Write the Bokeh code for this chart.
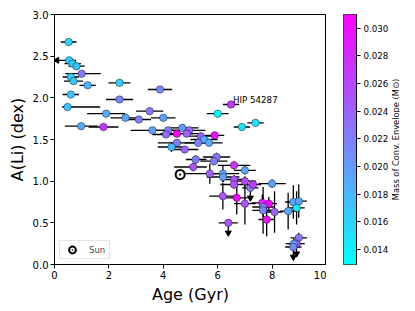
import numpy as np
from bokeh.plotting import figure
from bokeh.models import (ColumnDataSource, LinearColorMapper, FixedTicker,
                          PrintfTickFormatter, Legend, LegendItem, Range1d, Label)
from bokeh.layouts import row
from bokeh.transform import transform
from bokeh.embed import file_html
from bokeh.resources import INLINE

# ---------------- data ----------------
age = [0.52, 0.54, 0.67, 0.81, 1.00, 0.60, 0.70, 1.22, 0.60, 2.39,
       3.88, 2.39, 0.48, 1.90, 3.50, 2.61, 3.10, 4.00, 0.98, 1.80,
       6.49, 6.00, 7.39, 6.89, 3.60, 4.18, 4.10, 4.50, 4.70, 4.95,
       4.86, 5.38, 5.50, 5.89, 5.28, 5.68, 4.50, 4.30, 4.79, 5.19,
       5.96, 5.86, 5.10, 6.60, 7.00, 5.71, 6.19, 6.20, 6.60, 6.60,
       7.00, 7.20, 7.30, 8.00, 6.19, 6.70, 7.00, 7.64, 7.88, 7.67,
       7.67, 8.09, 7.80, 8.59, 8.78, 8.98, 8.90, 6.39, 8.98, 8.90,
       8.80, 8.78]
ali = [2.67, 2.45, 2.41, 2.38, 2.29, 2.25, 2.20, 2.15, 2.04, 2.18,
       2.10, 1.98, 1.89, 1.81, 1.84, 1.76, 1.74, 1.76, 1.66, 1.65,
       1.92, 1.81, 1.70, 1.65, 1.61, 1.61, 1.56, 1.57, 1.64, 1.61,
       1.57, 1.54, 1.50, 1.55, 1.46, 1.46, 1.46, 1.41, 1.38, 1.26,
       1.29, 1.24, 1.17, 1.19, 1.13, 1.09, 1.09, 1.05, 1.02, 0.96,
       1.00, 0.92, 0.96, 0.97, 0.82, 0.80, 0.73, 0.74, 0.73, 0.69,
       0.65, 0.63, 0.54, 0.64, 0.75, 0.76, 0.68, 0.50, 0.32, 0.25,
       0.25, 0.21]
age_err_lo = [0.29, 0.45, 0.30, 0.30, 0.60, 0.30, 0.35, 0.30, 0.30, 0.40,
              0.45, 0.50, 0.20, 0.70, 0.50, 0.55, 0.45, 0.45, 0.60, 0.55,
              0.30, 0.40, 0.30, 0.30, 0.80, 0.60, 0.50, 0.60, 0.60, 0.60,
              0.60, 0.50, 0.50, 0.35, 0.50, 0.50, 0.70, 0.50, 0.50, 0.36,
              0.50, 0.50, 0.70, 0.60, 0.40, 0.90, 0.60, 0.60, 0.50, 0.50,
              0.40, 0.30, 0.30, 0.50, 0.50, 0.40, 0.40, 0.40, 0.30, 0.40,
              0.40, 0.30, 0.30, 0.30, 0.30, 0.30, 0.30, 0.35, 0.30, 0.30,
              0.30, 0.30]
age_err_hi = [0.29, 0.25, 0.30, 0.30, 0.70, 0.30, 0.35, 0.30, 0.30, 0.40,
              0.45, 0.50, 1.20, 0.70, 0.50, 0.55, 0.45, 0.45, 0.60, 0.55,
              0.30, 0.40, 0.30, 0.30, 0.80, 0.60, 0.50, 0.60, 0.60, 0.60,
              0.60, 0.50, 0.50, 0.35, 0.50, 0.50, 0.70, 0.50, 0.50, 0.40,
              0.50, 0.50, 0.50, 0.60, 0.40, 0.60, 0.60, 0.60, 0.50, 0.50,
              0.40, 0.30, 0.30, 0.50, 0.50, 0.40, 0.40, 0.40, 0.30, 0.40,
              0.40, 0.30, 0.30, 0.30, 0.30, 0.30, 0.30, 0.35, 0.30, 0.30,
              0.30, 0.30]
ali_err = [0.04, 0.04, 0.04, 0.04, 0.04, 0.04, 0.04, 0.04, 0.04, 0.04,
           0.04, 0.04, 0.04, 0.04, 0.04, 0.04, 0.04, 0.04, 0.04, 0.04,
           0.04, 0.04, 0.04, 0.04, 0.04, 0.04, 0.04, 0.04, 0.04, 0.04,
           0.04, 0.04, 0.04, 0.04, 0.04, 0.04, 0.04, 0.06, 0.04, 0.05,
           0.05, 0.05, 0.05, 0.05, 0.05, 0.12, 0.10, 0.06, 0.05, 0.05,
           0.06, 0.00, 0.05, 0.05, 0.16, 0.20, 0.25, 0.10, 0.08, 0.12,
           0.28, 0.25, 0.20, 0.22, 0.20, 0.20, 0.20, 0.00, 0.06, 0.00,
           0.06, 0.00]
m_env = [0.0160, 0.0165, 0.0165, 0.0172, 0.0222, 0.0162, 0.0168, 0.0180, 0.0170, 0.0163,
         0.0212, 0.0215, 0.0170, 0.0190, 0.0225, 0.0190, 0.0220, 0.0195, 0.0190, 0.0268,
         0.0272, 0.0133, 0.0150, 0.0150, 0.0195, 0.0220, 0.0230, 0.0310, 0.0200, 0.0240,
         0.0240, 0.0240, 0.0190, 0.0300, 0.0220, 0.0190, 0.0220, 0.0175, 0.0240, 0.0220,
         0.0225, 0.0220, 0.0250, 0.0270, 0.0190, 0.0240, 0.0190, 0.0195, 0.0250, 0.0250,
         0.0260, 0.0222, 0.0265, 0.0195, 0.0250, 0.0305, 0.0250, 0.0290, 0.0310, 0.0215,
         0.0215, 0.0240, 0.0300, 0.0190, 0.0190, 0.0195, 0.0140, 0.0250, 0.0225, 0.0250,
         0.0200, 0.0210]
ali_upper_limit = [0, 0, 0, 0, 0, 0, 0, 0, 0, 0,
                   0, 0, 0, 0, 0, 0, 0, 0, 0, 0,
                   0, 0, 0, 0, 0, 0, 0, 0, 0, 0,
                   0, 0, 0, 0, 0, 0, 0, 0, 0, 0,
                   0, 0, 0, 0, 0, 0, 0, 0, 0, 0,
                   0, 1, 0, 0, 0, 0, 0, 0, 0, 0,
                   0, 0, 0, 0, 0, 0, 0, 1, 0, 1,
                   0, 1]
age_upper_limit = [0, 1] + [0] * 70

sun_age = [4.62]
sun_ali = [1.08]
label_name = "HIP 54287"
label_age, label_ali = 6.56, 1.97

x_ticks = [0, 2, 4, 6, 8, 10]
y_ticks = [0.0, 0.5, 1.0, 1.5, 2.0, 2.5, 3.0]
cb_ticks = [0.014, 0.016, 0.018, 0.020, 0.022, 0.024, 0.026, 0.028, 0.030]
cb_low, cb_high = 0.0129, 0.0310
cb_title = "Mass of Conv. Envelope (M\u2299)"

# ---------------- styling ----------------
FONT = "DejaVu Sans"
ARROW = 0.12
cool = ['#%02x%02x%02x' % (int(round(255 * t)), int(round(255 * (1 - t))), 255)
        for t in np.linspace(0, 1, 256)]
mapper = LinearColorMapper(palette=cool, low=cb_low, high=cb_high)

a = np.array(age); l = np.array(ali)
elo = np.array(age_err_lo); ehi = np.array(age_err_hi); ye = np.array(ali_err)
ul = np.array(ali_upper_limit, dtype=bool); aul = np.array(age_upper_limit, dtype=bool)

src = ColumnDataSource(dict(age=a, ali=l, menv=np.array(m_env)))
xerr = ColumnDataSource(dict(x0=a - elo, x1=a + ehi, y=l))
yerr = ColumnDataSource(dict(x=a[~ul], y0=l[~ul] - ye[~ul], y1=l[~ul] + ye[~ul]))
uls = ColumnDataSource(dict(x=a[ul], y0=l[ul], y1=l[ul] - ARROW))
auls = ColumnDataSource(dict(x=(a - elo)[aul], y=l[aul]))

p = figure(frame_width=272, frame_height=250, min_border_left=54, min_border_right=0,
           min_border_top=14, min_border_bottom=42,
           x_range=Range1d(0, 10), y_range=Range1d(0, 3),
           output_backend="svg", toolbar_location=None)
p.grid.visible = False
p.outline_line_color = "black"
p.outline_line_width = 1
p.background_fill_color = "white"
p.border_fill_color = "white"

for ax in (p.xaxis[0], p.yaxis[0]):
    ax.axis_line_color = "black"
    ax.major_tick_line_color = "black"
    ax.major_tick_out = 4
    ax.major_tick_in = 0
    ax.minor_tick_out = 0
    ax.minor_tick_in = 0
    ax.major_label_text_font = FONT
    ax.major_label_text_font_size = "10px"
    ax.major_label_text_color = "black"
    ax.axis_label_text_font = FONT
    ax.axis_label_text_font_size = "16px"
    ax.axis_label_text_font_style = "normal"
    ax.axis_label_text_color = "black"
    ax.major_label_standoff = 2
    ax.axis_label_standoff = 3

p.xaxis.ticker = FixedTicker(ticks=x_ticks)
p.yaxis.ticker = FixedTicker(ticks=y_ticks)
p.yaxis.formatter = PrintfTickFormatter(format="%.1f")
p.xaxis.axis_label = "Age (Gyr)"
p.yaxis.axis_label = "A(Li) (dex)"

# error bars
p.segment(x0="x0", y0="y", x1="x1", y1="y", source=xerr, line_color="black", line_width=1.3)
p.segment(x0="x", y0="y0", x1="x", y1="y1", source=yerr, line_color="black", line_width=1.3)
p.segment(x0="x", y0="y0", x1="x", y1="y1", source=uls, line_color="black", line_width=1.3)
p.scatter(x="x", y="y1", source=uls, marker="inverted_triangle", size=6,
          fill_color="black", line_color="black")
p.scatter(x="x", y="y", source=auls, marker="triangle", angle=np.pi / 2, size=6,
          fill_color="black", line_color="black")

# points
p.scatter(x="age", y="ali", source=src, size=7.5, fill_color=transform("menv", mapper),
          line_color="black", line_width=0.4)

# Sun
r_sun = p.scatter(x=sun_age, y=sun_ali, marker="circle_dot", size=9, fill_color="white",
                  line_color="black", line_width=2)

p.add_layout(Label(x=label_age, y=label_ali, text=label_name, text_font=FONT,
                   text_font_size="8.7px", text_color="black", text_baseline="alphabetic"))

legend = Legend(items=[LegendItem(label="Sun", renderers=[r_sun])],
                location="bottom_left", margin=5, padding=0, glyph_width=24,
                glyph_height=17, label_standoff=5, spacing=0,
                label_text_font=FONT, label_text_font_size="8.5px",
                border_line_color="#cccccc", background_fill_alpha=0.8)
p.add_layout(legend)

# ---------------- colour bar ----------------
cb = figure(frame_width=13, frame_height=250, min_border_left=17, min_border_right=32,
            min_border_top=14, min_border_bottom=42,
            x_range=Range1d(0, 1), y_range=Range1d(cb_low, cb_high),
            x_axis_location=None, y_axis_location="right",
            output_backend="svg", toolbar_location=None)
cb.grid.visible = False
grad = np.linspace(cb_low, cb_high, 256).reshape(256, 1)
cb.image(image=[grad], x=0, y=cb_low, dw=1, dh=cb_high - cb_low, color_mapper=mapper)
cb.outline_line_color = "black"
cb.outline_line_width = 0.8
yax = cb.yaxis[0]
yax.ticker = FixedTicker(ticks=cb_ticks)
yax.formatter = PrintfTickFormatter(format="%.3f")
yax.axis_line_color = "black"
yax.major_tick_out = 4
yax.major_tick_in = 0
yax.minor_tick_out = 0
yax.minor_tick_in = 0
yax.major_label_text_font = FONT
yax.major_label_text_font_size = "8.7px"
yax.major_label_text_color = "black"
yax.major_label_standoff = 3

# colour-bar title in its own narrow panel, reading bottom to top
tf = figure(frame_width=8, frame_height=250, min_border_left=0, min_border_right=4,
            min_border_top=14, min_border_bottom=42,
            x_range=Range1d(0, 1), y_range=Range1d(0, 1),
            x_axis_location=None, y_axis_location=None,
            output_backend="svg", toolbar_location=None)
tf.grid.visible = False
tf.outline_line_color = None
tf.add_layout(Label(x=0.5, y=0.5, text=cb_title, angle=np.pi / 2,
                    text_align="center", text_baseline="middle",
                    text_font=FONT, text_font_size="8.3px", text_color="black"))

layout = row(p, cb, tf)
open("out.html", "w").write(file_html(layout, INLINE))
